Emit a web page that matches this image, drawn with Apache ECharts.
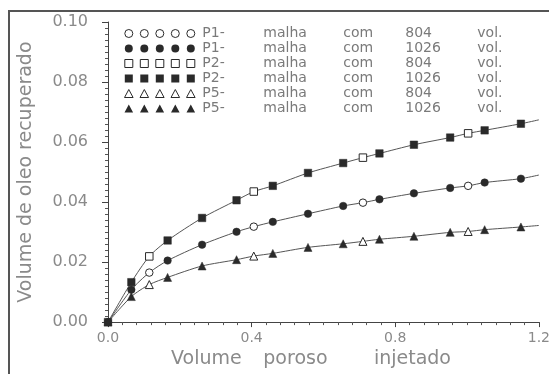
<!DOCTYPE html>
<html>
<head>
<meta charset="utf-8">
<script src="https://cdn.jsdelivr.net/npm/echarts@6/dist/echarts.min.js"></script>
<style>
html,body{margin:0;padding:0;background:#fff;}
#chart{width:553px;height:374px;}
</style>
</head>
<body>
<div id="chart"></div>
<script>
// ---- data ----
const xFine   = [0, 0.065, 0.166, 0.262, 0.358, 0.459, 0.557, 0.655, 0.756, 0.852, 0.953, 1.049, 1.150];
const xCoarse = [0.115, 0.406, 0.710, 1.003];

const p1Fine   = [0, 0.0108, 0.0205, 0.0258, 0.0301, 0.0334, 0.0361, 0.0387, 0.0409, 0.0429, 0.0447, 0.0465, 0.0478];
const p1Coarse = [0.0165, 0.0318, 0.0398, 0.0454];
const p2Fine   = [0, 0.0133, 0.0272, 0.0347, 0.0406, 0.0454, 0.0497, 0.0530, 0.0562, 0.0591, 0.0615, 0.0639, 0.0661];
const p2Coarse = [0.0219, 0.0435, 0.0548, 0.0629];
const p5Fine   = [0, 0.0085, 0.0149, 0.0187, 0.0208, 0.0229, 0.0249, 0.0261, 0.0276, 0.0286, 0.0299, 0.0308, 0.0317];
const p5Coarse = [0.0125, 0.0220, 0.0269, 0.0302];

const curveEndX = 1.2;
const p1End = 0.0490, p2End = 0.0674, p5End = 0.0322;

const seriesNames = [
  'P1- malha com 804 vol.',
  'P1- malha com 1026 vol.',
  'P2- malha com 804 vol.',
  'P2- malha com 1026 vol.',
  'P5- malha com 804 vol.',
  'P5- malha com 1026 vol.'
];
const xTicks = [0, 0.4, 0.8, 1.2];
const yTicks = [0, 0.02, 0.04, 0.06, 0.08, 0.10];

// ---- helpers ----
function pairs(xs, ys) { return xs.map((x, i) => [x, ys[i]]); }
function merged(fx, fy, cx, cy, endY) {
  const pts = pairs(fx, fy).concat(pairs(cx, cy));
  pts.sort((a, b) => a[0] - b[0]);
  pts.push([curveEndX, endY]);
  return pts;
}
// legend icons: five markers in a row (70 x 8 box)
const centers = [4, 19.5, 35, 50.5, 66];
function circles() {
  return 'path://' + centers.map(c => `M${c-4},4a4,4 0 1,0 8,0a4,4 0 1,0 -8,0Z`).join('');
}
function squares() {
  return 'path://' + centers.map(c => `M${c-4},0L${c+4},0L${c+4},8L${c-4},8Z`).join('');
}
function triangles() {
  return 'path://' + centers.map(c => `M${c},0L${c+4.3},8L${c-4.3},8Z`).join('');
}

const DARK = '#2a2a2a';
const LINE = '#555';
const TXT = '#8a8a8a';
const FONT = 'DejaVu Sans';

function markerSeries(name, data, symbol, hollow, z) {
  return {
    name, type: 'line', data, symbol, symbolSize: symbol === 'triangle' ? 8 : 7.5,
    showSymbol: true, z,
    lineStyle: { width: 0, opacity: 0 },
    itemStyle: hollow ? { color: '#fff', borderColor: DARK, borderWidth: 1 } : { color: DARK, borderColor: DARK, borderWidth: 0.5 },
    emphasis: { disabled: true }
  };
}
function curveSeries(data) {
  return {
    type: 'line', data, symbol: 'none', smooth: 0.25, silent: true, z: 2,
    lineStyle: { color: LINE, width: 1 }, emphasis: { disabled: true }
  };
}

const chart = echarts.init(document.getElementById('chart'), null, { renderer: 'canvas' });
const legendIcons = [circles(), circles(), squares(), squares(), triangles(), triangles()];
const richCell = (w) => Object.assign(w ? { width: w } : {}, { fontSize: 14, color: '#7a7a7a', fontFamily: FONT, lineHeight: 15 });

chart.setOption({
  animation: false,
  backgroundColor: '#fff',
  grid: { left: 108, right: 8, top: 22, bottom: 41, containLabel: false },
  legend: {
    orient: 'vertical', left: 119, top: 21, itemWidth: 75, itemHeight: 8, itemGap: 0,
    selectedMode: false,
    data: seriesNames.map((n, i) => ({
      name: n, icon: legendIcons[i],
      itemStyle: i % 2 === 0 ? { color: '#fff', borderColor: DARK, borderWidth: 1 } : { color: DARK, borderColor: DARK, borderWidth: 0 }
    })),
    formatter: function (name) {
      const p = name.split(' ');
      return `{a|${p[0]}}{b|${p[1]}}{c|${p[2]}}{d|${p[3]}}{e|${p[4]}}`;
    },
    textStyle: {
      color: '#7a7a7a', fontFamily: FONT, fontSize: 14, lineHeight: 15,
      rich: { a: richCell(61), b: richCell(80), c: richCell(62), d: richCell(72), e: richCell(0) }
    }
  },
  xAxis: {
    type: 'value', min: xTicks[0], max: xTicks[xTicks.length - 1], interval: 0.4,
    axisLine: { show: true, onZero: false, lineStyle: { color: '#444', width: 1 } },
    axisTick: { show: true, length: 5, lineStyle: { color: '#444' } },
    minorTick: { show: true, splitNumber: 10, length: 3, lineStyle: { color: '#555' } },
    splitLine: { show: false },
    axisLabel: { color: TXT, fontFamily: FONT, fontSize: 14, margin: 9, formatter: v => v.toFixed(1) },
    name: '{a|Volume }{b|poroso }{c|injetado}',
    nameLocation: 'middle', nameGap: 21,
    nameTextStyle: {
      color: TXT, fontFamily: FONT, fontSize: 19,
      rich: {
        a: { width: 100, align: 'center', color: TXT, fontFamily: FONT, fontSize: 19 },
        b: { width: 78, align: 'center', color: TXT, fontFamily: FONT, fontSize: 19 },
        c: { width: 150, align: 'center', color: TXT, fontFamily: FONT, fontSize: 19 }
      }
    }
  },
  yAxis: {
    type: 'value', min: yTicks[0], max: yTicks[yTicks.length - 1], interval: 0.02,
    axisLine: { show: true, lineStyle: { color: '#444', width: 1 } },
    axisTick: { show: true, length: 6, lineStyle: { color: '#444' } },
    minorTick: { show: true, splitNumber: 10, length: 3, lineStyle: { color: '#555' } },
    splitLine: { show: false },
    axisLabel: { color: TXT, fontFamily: FONT, fontSize: 16, margin: 20, formatter: v => v.toFixed(2) },
    name: 'Volume de oleo recuperado',
    nameLocation: 'middle', nameGap: 72,
    nameTextStyle: { color: TXT, fontFamily: FONT, fontSize: 19 }
  },
  graphic: [{
    type: 'polyline', silent: true, z: 100,
    shape: { points: [[9, 380], [9, 11], [549, 11]] },
    style: { stroke: '#555', lineWidth: 2, fill: null }
  }],
  series: [
    curveSeries(merged(xFine, p1Fine, xCoarse, p1Coarse, p1End)),
    curveSeries(merged(xFine, p2Fine, xCoarse, p2Coarse, p2End)),
    curveSeries(merged(xFine, p5Fine, xCoarse, p5Coarse, p5End)),
    markerSeries(seriesNames[1], pairs(xFine, p1Fine), 'circle', false, 3),
    markerSeries(seriesNames[3], pairs(xFine, p2Fine), 'rect', false, 3),
    markerSeries(seriesNames[5], pairs(xFine, p5Fine), 'triangle', false, 3),
    markerSeries(seriesNames[0], pairs(xCoarse, p1Coarse), 'circle', true, 4),
    markerSeries(seriesNames[2], pairs(xCoarse, p2Coarse), 'rect', true, 4),
    markerSeries(seriesNames[4], pairs(xCoarse, p5Coarse), 'triangle', true, 4)
  ]
});
</script>
</body>
</html>
